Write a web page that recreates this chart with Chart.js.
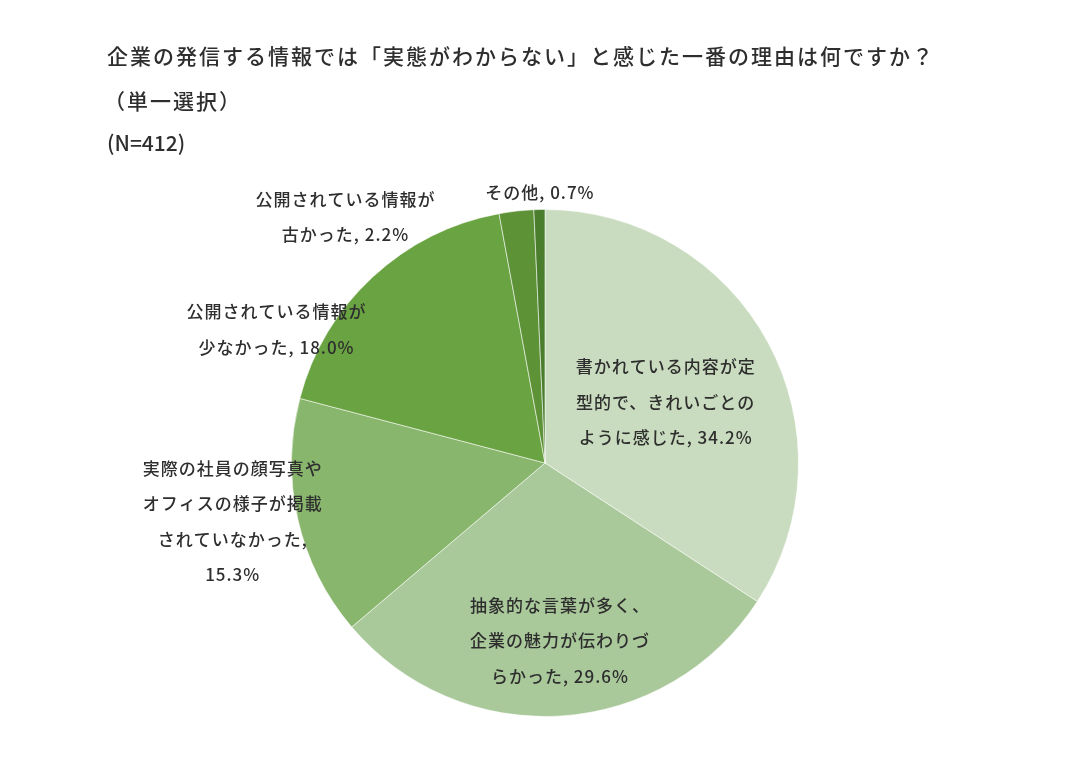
<!DOCTYPE html>
<html><head><meta charset="utf-8">
<script src="https://cdn.jsdelivr.net/npm/chart.js@4"></script>
<style>html,body{margin:0;padding:0;background:#fff}#wrap{width:1091px;height:780px;position:relative}</style>
</head><body><div id="wrap"><canvas id="c" width="1091" height="780"></canvas></div>
<script>
// ---- data ----
const titleLines = ["企業の発信する情報では「実態がわからない」と感じた一番の理由は何ですか？", "（単一選択）", "(N=412)"];
const categories = [
  ["書かれている内容が定", "型的で、きれいごとの", "ように感じた"],
  ["抽象的な言葉が多く、", "企業の魅力が伝わりづ", "らかった"],
  ["実際の社員の顔写真や", "オフィスの様子が掲載", "されていなかった"],
  ["公開されている情報が", "少なかった"],
  ["公開されている情報が", "古かった"],
  ["その他"]
];
const values = [34.2, 29.6, 15.3, 18.0, 2.2, 0.7];

// ---- style / layout ----
const colors = ["#c9dcbf", "#aac99b", "#88b66c", "#6aa342", "#5d9237", "#4a7d2c"];
const labelOffsets = [[0.476,-0.240],[0.059,0.701],[-1.232,0.230],[-1.059,-0.526],[-0.787,-0.970],[-0.020,-1.067]];
const valueOnNewLine = [false,false,true,false,false,false];
const FONT = '"Noto Sans CJK JP","Noto Sans",sans-serif';
const TXT = '#2e2e2e';

const labelPlugin = {
  id: 'labels',
  afterDatasetsDraw(chart) {
    const ctx = chart.ctx;
    const meta = chart.getDatasetMeta(0);
    ctx.save();
    ctx.fillStyle = TXT;
    ctx.textAlign = 'center';
    ctx.textBaseline = 'middle';
    ctx.font = '500 17px ' + FONT;
    try { ctx.letterSpacing = '1px'; } catch(e) {}
    meta.data.forEach((arc, i) => {
      const r = arc.outerRadius, cx = arc.x, cy = arc.y;
      const lines = categories[i].slice();
      const v = values[i].toFixed(1) + '%';
      if (valueOnNewLine[i]) { lines[lines.length-1] += ','; lines.push(v); }
      else lines[lines.length-1] += ', ' + v;
      const lh = 35.5;
      const x = cx + labelOffsets[i][0]*r;
      const y0 = cy + labelOffsets[i][1]*r - (lines.length-1)*lh/2;
      lines.forEach((l, k) => ctx.fillText(l, x, y0 + k*lh));
    });
    ctx.restore();
  },
  afterDraw(chart) {
    const ctx = chart.ctx;
    ctx.save();
    ctx.fillStyle = TXT;
    ctx.textAlign = 'left';
    ctx.textBaseline = 'middle';
    ctx.font = '500 21px ' + FONT;
    const ys = [56, 101, 143];
    const sp = ['2px', '2px', '0px'];
    titleLines.forEach((t, i) => {
      try { ctx.letterSpacing = sp[i]; } catch(e) {}
      ctx.fillText(t, i === 1 ? 104 : 107, ys[i]);
    });
    ctx.restore();
  }
};

new Chart(document.getElementById('c'), {
  type: 'pie',
  data: {
    labels: categories,
    datasets: [{ data: values, backgroundColor: colors, borderColor: 'rgba(255,255,255,0.55)', borderWidth: 1 }]
  },
  options: {
    responsive: false,
    animation: false,
    events: [],
    layout: { padding: { top: 209, bottom: 63, left: 291, right: 292 } },
    plugins: { legend: { display: false }, tooltip: { enabled: false }, title: { display: false } }
  },
  plugins: [labelPlugin]
});
</script>
</body></html>
